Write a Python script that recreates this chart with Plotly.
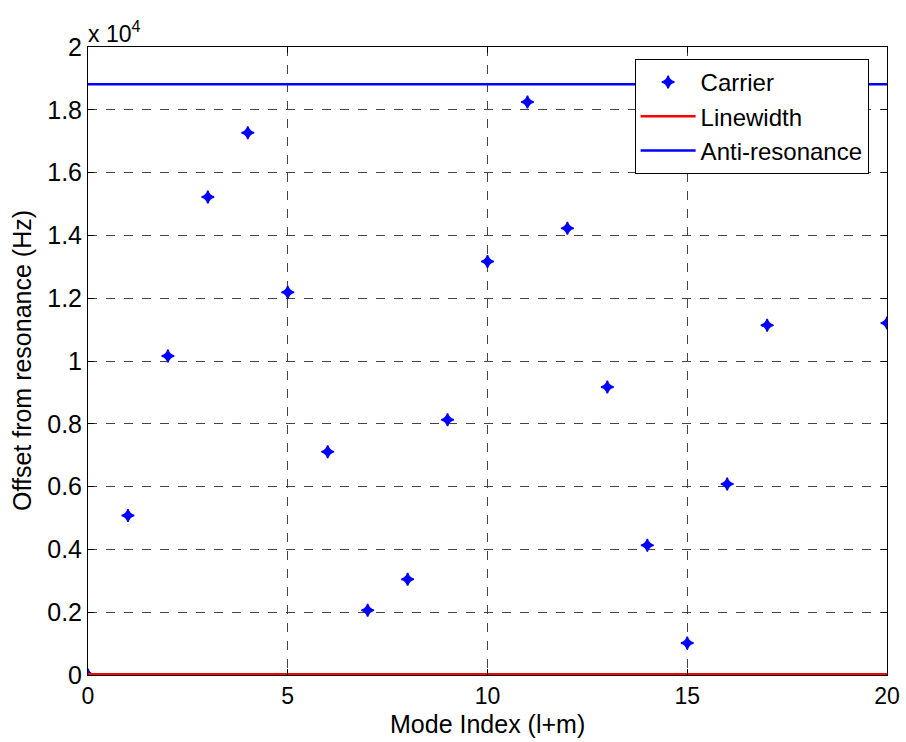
import plotly.graph_objects as go

mode_index = list(range(21))
carrier_hz = [0, 5080, 10160, 15220, 17270, 12190, 7110, 2060, 3050, 8130,
              13170, 18250, 14230, 9170, 4130, 1020, 6080, 11140, 16200, 16250, 11210]
linewidth_x = [0, 20]
linewidth_hz = [20, 20]
antires_x = [0, 20]
antires_hz = [18810, 18810]

ytick_vals = [0, 2000, 4000, 6000, 8000, 10000, 12000, 14000, 16000, 18000, 20000]
ytick_text = ["0", "0.2", "0.4", "0.6", "0.8", "1", "1.2", "1.4", "1.6", "1.8", "2"]
xtick_vals = [0, 5, 10, 15, 20]

FONT = "Liberation Sans, Arial, sans-serif"
FS = 25

fig = go.Figure()
fig.add_trace(go.Scatter(x=mode_index, y=carrier_hz, mode="markers", name="Carrier",
                         marker=dict(symbol="star-diamond", size=9, color="#0000FF",
                                     line=dict(width=1.5, color="#0000FF"))))
fig.add_trace(go.Scatter(x=linewidth_x, y=linewidth_hz, mode="lines", name="Linewidth",
                         line=dict(color="#FF0000", width=2.5)))
fig.add_trace(go.Scatter(x=antires_x, y=antires_hz, mode="lines", name="Anti-resonance",
                         line=dict(color="#0000FF", width=2.5)))

axis_common = dict(showline=True, linecolor="black", linewidth=1, mirror="ticks",
                   ticks="inside", ticklen=6, tickcolor="black",
                   showgrid=True, gridcolor="#444444", griddash="dash", gridwidth=1,
                   zeroline=False, automargin=False)

fig.update_xaxes(range=[0, 20], tickvals=xtick_vals, ticklabelstandoff=0,
                 tickfont=dict(family=FONT, size=23, color="black"), **axis_common)
fig.update_yaxes(range=[0, 20000], tickvals=ytick_vals, ticktext=ytick_text,
                 tickfont=dict(family=FONT, size=FS, color="black"), **axis_common)

fig.add_annotation(text="Mode Index (l+m)", xref="paper", yref="paper", x=0.5, y=0,
                   xanchor="center", yanchor="top", yshift=-33, showarrow=False,
                   font=dict(family=FONT, size=FS, color="black"))
fig.add_annotation(text="Offset from resonance (Hz)", xref="paper", yref="paper", x=0, y=0.5,
                   xanchor="center", yanchor="middle", xshift=-66, textangle=-90,
                   showarrow=False, font=dict(family=FONT, size=FS, color="black"))
fig.add_annotation(text="x 10<sup>4</sup>", xref="paper", yref="paper", x=0.0, y=1.0,
                   xanchor="left", yanchor="bottom", showarrow=False,
                   font=dict(family=FONT, size=23, color="black"), yshift=-2, xshift=-2)

fig.update_layout(
    width=906, height=742, autosize=False,
    margin=dict(l=88, r=19, t=47, b=67),
    paper_bgcolor="white", plot_bgcolor="white",
    font=dict(family=FONT, size=FS, color="black"),
    showlegend=True,
    legend=dict(x=0.977, y=0.981, xanchor="right", yanchor="top",
                bgcolor="white", bordercolor="black", borderwidth=1,
                font=dict(family=FONT, size=24, color="black"),
                tracegroupgap=0, itemwidth=55),
)

fig.write_html("out.html", config={"displayModeBar": False},
               post_script="document.body.style.margin='0';document.body.style.overflow='hidden';")
